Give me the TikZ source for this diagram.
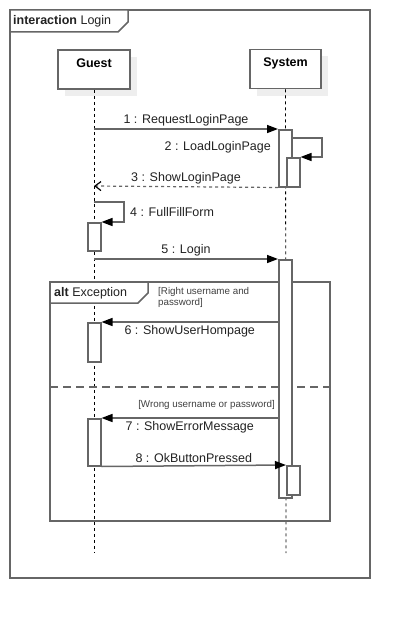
\documentclass[tikz,border=0pt]{standalone}
\usepackage{fontspec}
\setmainfont{Liberation Sans}
\usetikzlibrary{arrows.meta,shadows}
\definecolor{linegray}{RGB}{102,102,102}
\definecolor{shadowgray}{RGB}{238,238,238}
\definecolor{textdark}{RGB}{34,34,34}
\begin{document}
\begin{tikzpicture}[x=1pt, y=-1pt]
	\tikzstyle{frame} = [draw=linegray, line width=1.5pt]
	\tikzstyle{actor} = [rectangle, draw=linegray, line width=1.5pt, fill=white, minimum width=72pt, inner sep=3pt, text height=14pt, text depth=19pt, font=\fontsize{12.5}{14}\selectfont\bfseries, drop shadow={shadow xshift=7pt, shadow yshift=-7pt, fill=shadowgray, opacity=1}]
	\tikzstyle{act} = [rectangle, draw=linegray, line width=1.5pt, fill=white, minimum width=13pt, inner sep=0pt, anchor=north west]
	\tikzstyle{lifeline} = [draw=black, line width=0.8pt, dash pattern=on 3pt off 3pt]
	\tikzstyle{msg} = [draw=linegray, line width=1.5pt, -{Triangle[length=11pt, width=8pt, black]}]
	\tikzstyle{reply} = [draw=linegray, line width=1.2pt, dash pattern=on 3pt off 3pt, -{Straight Barb[length=6pt, width=9pt, black]}]
	\tikzstyle{lbl} = [text=textdark, font=\fontsize{12.5}{14}\selectfont, inner sep=2pt]
	\tikzstyle{guard} = [text=black!75, font=\fontsize{9.8}{11}\selectfont, inner sep=0pt, align=left]
	\useasboundingbox (0,0) rectangle (410,618);
	\draw[frame] (10,10) rectangle (370,578);
	\draw[frame, fill=white] (10,10) -- (128,10) -- (128,22) -- (118,32) -- (10,32) -- cycle;
	\node[lbl, anchor=west] (title) at (11,21) {\textbf{interaction} Login};
	\node[actor] (Guest) at (94,69.5) {Guest};
	\node[actor, minimum width=71pt] (System) at (285.5,69) {System};
	\coordinate (GuestEnd) at (94,553);
	\coordinate (SystemEnd) at (286,553);
	\draw[lifeline] (Guest.south) -- (GuestEnd);
	\draw[lifeline] (System.south) -- (SystemEnd);
	\draw[frame] (50,282) rectangle (330,521);
	\draw[frame, fill=white] (50,282) -- (148,282) -- (148,293) -- (138,303) -- (50,303) -- cycle;
	\node[lbl, anchor=west] (altlabel) at (52,293) {\textbf{alt} Exception};
	\draw[draw=linegray, line width=1.5pt, dash pattern=on 8pt off 5pt] (50,387) -- (330,387);
	\node[guard, anchor=north west] (guardA) at (158,287) {[Right username and\\password]};
	\node[guard, anchor=east] (guardB) at (275,405) {[Wrong username or password]};
	\node[act, minimum height=57pt] (sysA) at (278,129) {};
	\node[act, minimum height=29pt] (sysB) at (286,157) {};
	\node[act, minimum height=28pt] (guestA) at (87,222) {};
	\node[act, minimum height=238pt] (sysC) at (278,259) {};
	\node[act, minimum height=39pt] (guestB) at (87,322) {};
	\node[act, minimum height=47pt] (guestC) at (87,418) {};
	\node[act, minimum height=29pt] (sysD) at (286,465) {};
	\coordinate (m1) at (94,129);
	\coordinate (m2a) at (291,138);
	\coordinate (m2b) at (322,138);
	\coordinate (m3) at (94,186);
	\coordinate (m4a) at (94,202);
	\coordinate (m4b) at (124,202);
	\coordinate (m5) at (94,259);
	\coordinate (m6) at (278,322);
	\coordinate (m7) at (278,418);
	\draw[msg] (m1) -- node[lbl, above] {1 : RequestLoginPage} (sysA.north west);
	\draw[msg] (m2a) -- (m2b) |- (sysB.north east);
	\node[lbl, anchor=east] (l2) at (273,147) {2 : LoadLoginPage};
	\draw[reply] (sysA.south west) -- node[lbl, above] {3 : ShowLoginPage} (m3);
	\draw[msg] (m4a) -- (m4b) |- (guestA.north east);
	\node[lbl, anchor=west] (l4) at (128,212) {4 : FullFillForm};
	\draw[msg] (m5) -- node[lbl, above] {5 : Login} (sysC.north west);
	\draw[msg] (m6) -- node[lbl, below=1pt] {6 : ShowUserHompage} (guestB.north east);
	\draw[msg] (m7) -- node[lbl, below=1pt] {7 : ShowErrorMessage} (guestC.north east);
	\draw[msg] (guestC.south east) -- node[lbl, above] {8 : OkButtonPressed} (sysD.north west);
\end{tikzpicture}
\end{document}
